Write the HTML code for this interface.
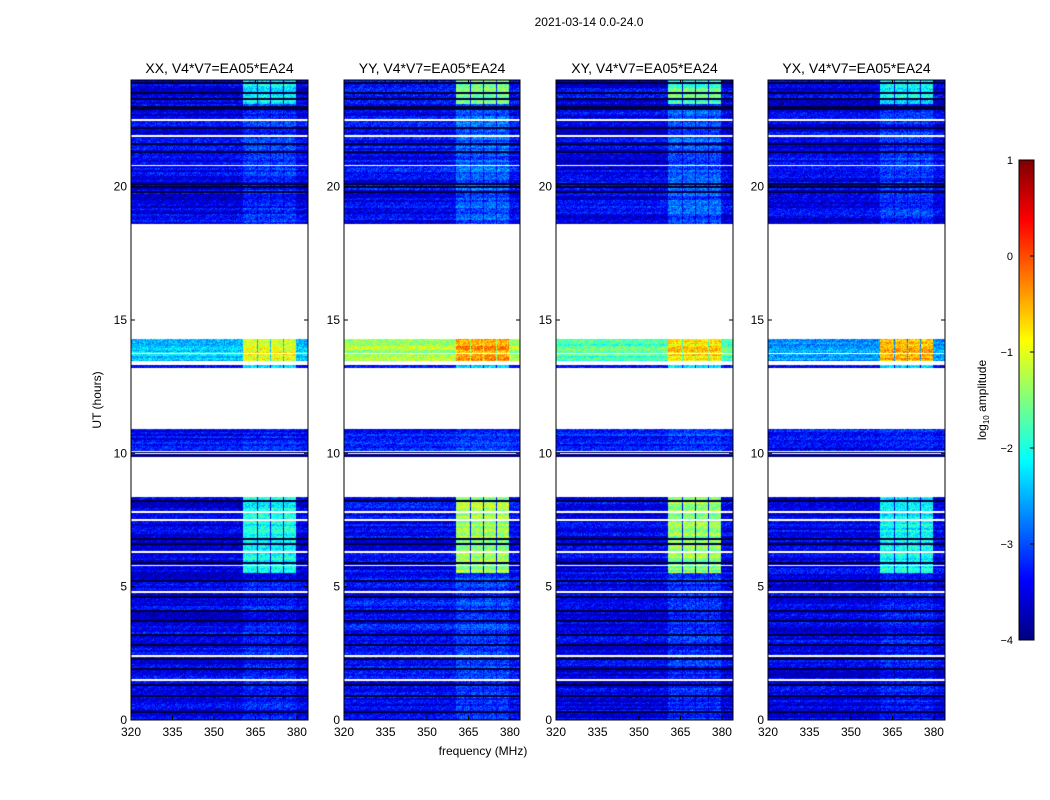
<!DOCTYPE html>
<html><head><meta charset="utf-8"><style>
body{margin:0;background:#fff;width:1050px;height:800px;overflow:hidden;position:relative;font-family:"Liberation Sans",sans-serif}
canvas{position:absolute}
svg{position:absolute;left:0;top:0}
</style></head><body>
<canvas id="c0" width="177" height="640" style="left:131px;top:80px"></canvas>
<canvas id="c1" width="176" height="640" style="left:344px;top:80px"></canvas>
<canvas id="c2" width="177" height="640" style="left:556px;top:80px"></canvas>
<canvas id="c3" width="177" height="640" style="left:768px;top:80px"></canvas>
<canvas id="cb" width="15" height="480" style="left:1019px;top:160px"></canvas>
<svg id="s" width="1050" height="800"></svg>
<script>
// ---- data ----
const panelTitles=["XX, V4*V7=EA05*EA24","YY, V4*V7=EA05*EA24","XY, V4*V7=EA05*EA24","YX, V4*V7=EA05*EA24"];
const xTicks=[320,335,350,365,380];
const yTicks=[0,5,10,15,20];
const cbTicks=[-4,-3,-2,-1,0,1];
// segments: [startHour,endHour]
const segStart=[0,5.5,9.85,10.1,13.2,13.45,18.6,23.1];
const segEnd=[5.5,8.35,10.05,10.9,13.4,14.3,23.1,24];
// per panel background log10 amplitude per segment
const bgXX=[-3.35,-3.35,-4.5,-3.25,-3.3,-2.2,-3.35,-3.35];
const bgYY=[-3.25,-3.25,-4.5,-3.15,-3.2,-1.2,-3.25,-3.25];
const bgXY=[-3.35,-3.35,-4.5,-3.15,-3.3,-1.6,-3.35,-3.35];
const bgYX=[-3.35,-3.35,-4.5,-3.25,-3.3,-2.5,-3.35,-3.35];
// band (360-380 MHz) level per segment
const bandXX=[-3.15,-1.9,-4.5,-3.15,-2.2,-0.8,-3.05,-2.0];
const bandYY=[-3.0,-1.2,-4.5,-3.0,-2.2,-0.3,-2.8,-1.5];
const bandXY=[-3.05,-1.3,-4.5,-3.0,-2.2,-0.6,-2.85,-1.6];
const bandYX=[-3.15,-2.0,-4.5,-3.15,-2.2,-0.4,-3.05,-2.0];
const bandStart=[360.4,365.9,370.6,375.3];
const bandEnd=[365.3,370.0,374.7,379.4];
const blackRows=[0.3,0.9,1.3,1.9,2.3,2.8,3.2,3.7,4.1,4.6,5.2,5.9,6.6,6.8,8.2,10.05,19.8,20.0,20.1,21.3,21.6,22.2,22.9,23.0,23.3,23.5,23.9];
const whiteRows=[1.5,2.4,4.8,5.8,6.3,7.5,7.8,13.35,13.75,20.8,21.9,22.5,10.0];
const bgs=[bgXX,bgYY,bgXY,bgYX], bands=[bandXX,bandYY,bandXY,bandYX];
// ---- drawing ----
function jet(v){v=Math.max(0,Math.min(1,v));const f=t=>Math.max(0,Math.min(1,1.5-Math.abs(4*v-t)));return [f(3)*255|0,f(2)*255|0,f(1)*255|0];}
function tex(i,j){let h=(i*374761393+j*668265263)>>>0;h=(h^(h>>>13))*1274126177>>>0;return ((h&1023)/1023-0.5);}
const W=[177,176,177,177];
for(let p=0;p<4;p++){
  const c=document.getElementById('c'+p).getContext('2d');const w=W[p],H=640;
  const x2f=x=>320+x*(384-320)/177;const y2h=y=>24-(y+0.5)*24/640;
  const img=c.createImageData(w,H);
  for(let y=0;y<H;y++){const h=y2h(y);let s=-1;
    for(let k=0;k<segStart.length;k++)if(h>=segStart[k]&&h<segEnd[k])s=k;
    let blk=blackRows.some(b=>Math.abs(b-h)<0.04), wht=whiteRows.some(b=>Math.abs(b-h)<0.03);
    const rowj=tex(Math.floor(y/2),p+7)*0.5;
    for(let x=0;x<w;x++){const o=(y*w+x)*4;let col;
      if(s<0||wht)col=[255,255,255];
      else if(blk)col=[0,0,60];
      else{const f=x2f(x);let inB=false;for(let b=0;b<4;b++)if(f>=bandStart[b]&&f<bandEnd[b])inB=true;
        let v=(inB?bands[p][s]:bgs[p][s])+rowj+tex(x,y+p*1000)*0.7;
        col=jet((v+4)/5);}
      img.data[o]=col[0];img.data[o+1]=col[1];img.data[o+2]=col[2];img.data[o+3]=255;}
  }
  c.putImageData(img,0,0);
}
const cb=document.getElementById('cb').getContext('2d');
for(let y=0;y<480;y++){const c=jet(1-y/480);cb.fillStyle=`rgb(${c})`;cb.fillRect(0,y,15,1);}
// axes
const NS="http://www.w3.org/2000/svg",svg=document.getElementById('s');
function el(t,a,txt){const e=document.createElementNS(NS,t);for(const k in a)e.setAttribute(k,a[k]);if(txt!=null)e.textContent=txt;svg.appendChild(e);return e;}
const X0=[131,344,556,768];
const yS=h=>720-h*640/24;
for(let p=0;p<4;p++){const x0=X0[p],w=W[p];const xS=f=>x0+(f-320)*177/64;
  let r=el('rect',{x:x0,y:80,width:w,height:640,fill:'none',stroke:'#000'});
  
  let t=el('text',{x:x0+w/2,y:73,'text-anchor':'middle','font-size':14},panelTitles[p]);
  
  xTicks.forEach(v=>{el('line',{x1:xS(v),x2:xS(v),y1:720,y2:716,stroke:'#000'});el('line',{x1:xS(v),x2:xS(v),y1:80,y2:84,stroke:'#000'});
    let l=el('text',{x:xS(v),y:736,'text-anchor':'middle','font-size':12},v);});
  yTicks.forEach(v=>{el('line',{x1:x0,x2:x0+4,y1:yS(v),y2:yS(v),stroke:'#000'});el('line',{x1:x0+w,x2:x0+w-4,y1:yS(v),y2:yS(v),stroke:'#000'});
    let l=el('text',{x:x0-4,y:yS(v)+4,'text-anchor':'end','font-size':12},v);});
}
let tt=el('text',{x:589,y:26,'text-anchor':'middle','font-size':12},'2021-03-14 0.0-24.0');
let xl=el('text',{x:483,y:755,'text-anchor':'middle','font-size':12},'frequency (MHz)');
let yl=el('text',{x:101,y:400,'text-anchor':'middle','font-size':12,transform:'rotate(-90 101 400)'},'UT (hours)');
el('rect',{x:1019,y:160,width:15,height:480,fill:'none',stroke:'#000'});
cbTicks.forEach(v=>{const y=640-(v+4)*96;el('line',{x1:1030,x2:1034,y1:y,y2:y,stroke:'#000'});
  let l=el('text',{x:1013,y:y+4,'text-anchor':'end','font-size':11},v<0?'\u2212'+(-v):v);});
let cl=el('text',{x:986,y:400,'text-anchor':'middle','font-size':12,transform:'rotate(-90 986 400)'});

cl.innerHTML='log<tspan font-size="8" dy="3">10</tspan><tspan dy="-3"> amplitude</tspan>';
</script>
</body></html>
